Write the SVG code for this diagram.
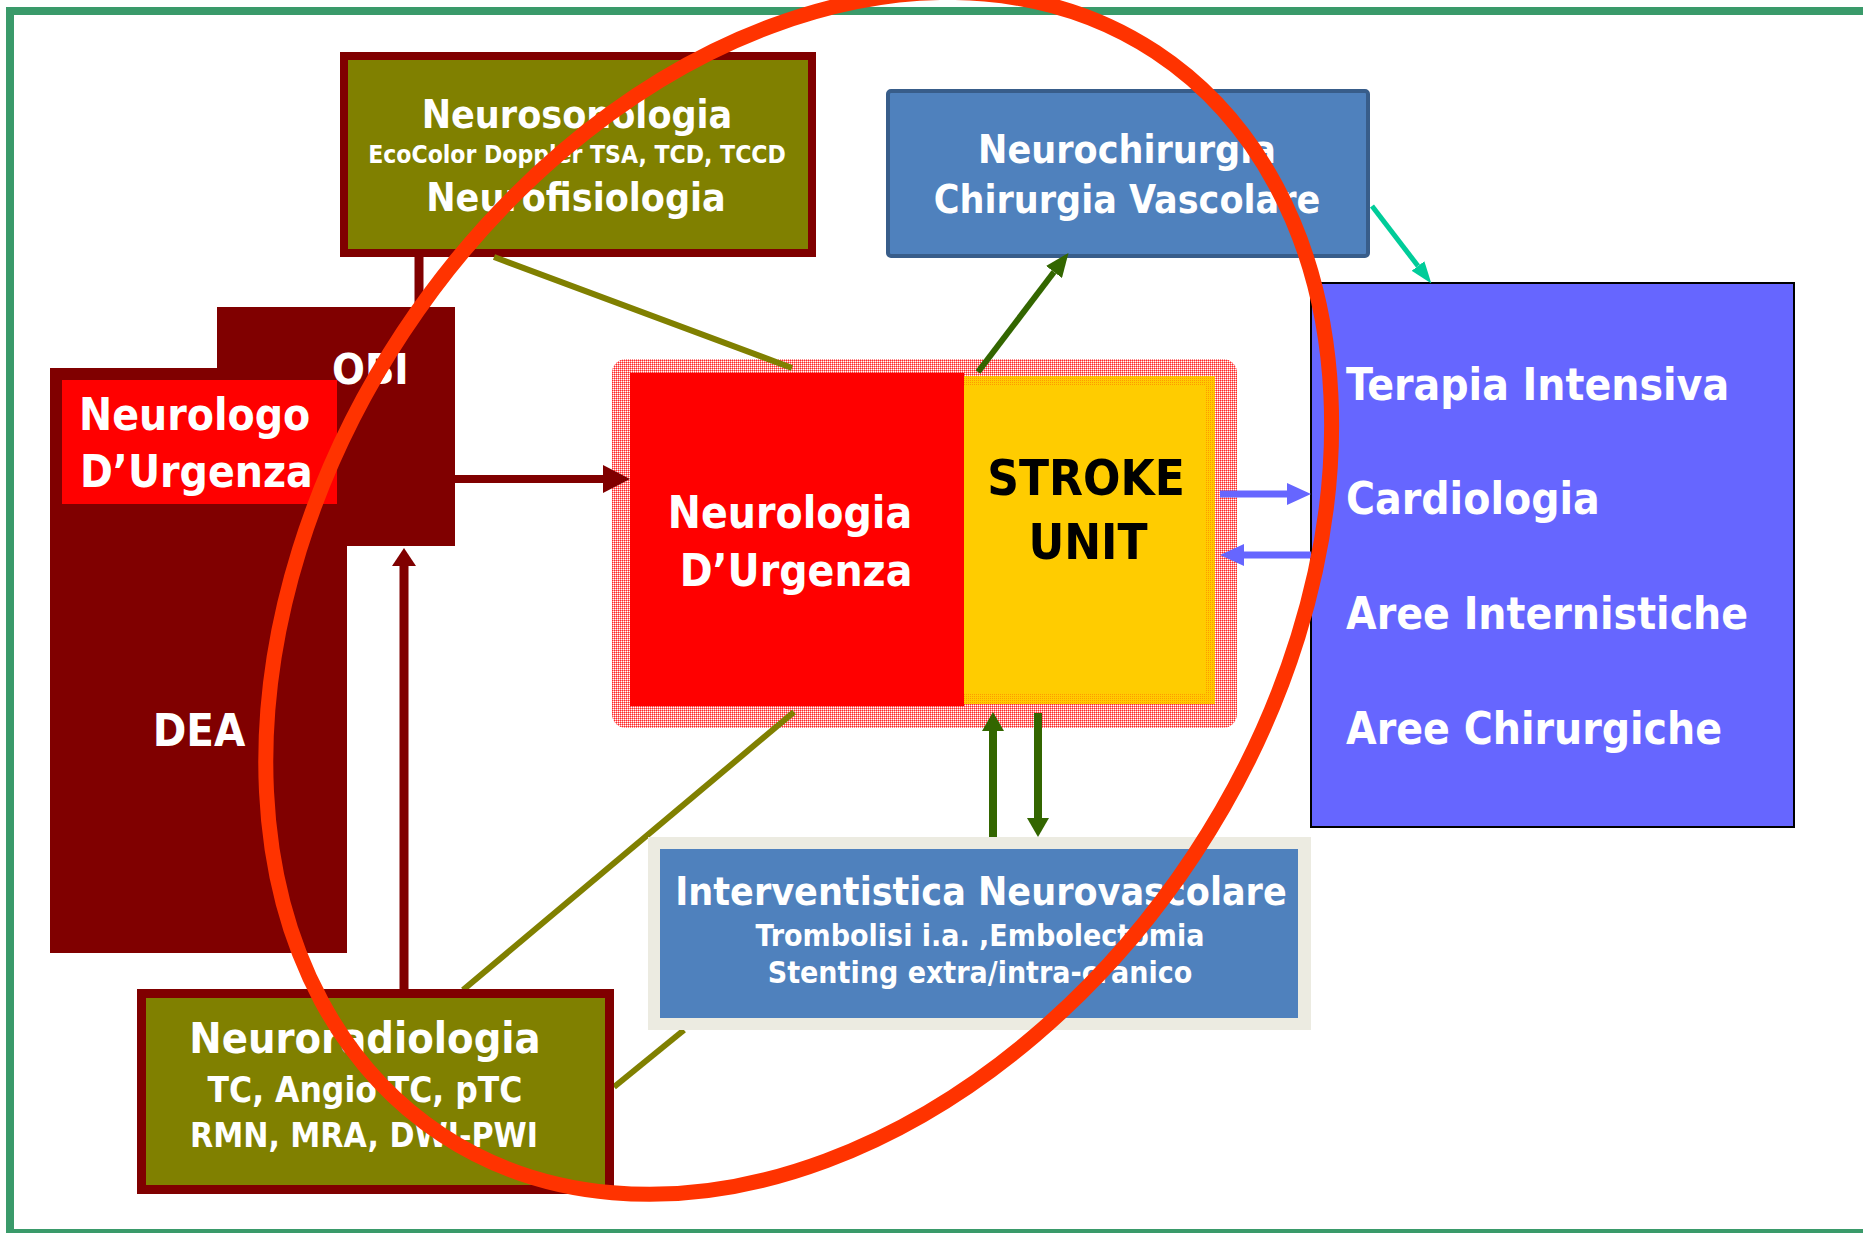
<svg xmlns="http://www.w3.org/2000/svg" width="1863" height="1233" viewBox="0 0 1863 1233">
<style>
text{font-family:'DejaVu Sans Condensed','DejaVu Sans',sans-serif;font-weight:bold;fill:#ffffff}
.c{text-anchor:middle}
.dk{fill:#000000}
.olv{fill:#808000;stroke:#800000}
.conn-olive{stroke:#808000;stroke-width:6;fill:none}
</style>
<defs>
<pattern id="pinkmesh" width="2" height="2" patternUnits="userSpaceOnUse">
<rect width="2" height="2" fill="#ffffff"/>
<rect width="1" height="1" fill="#ff2a2a"/>
<rect x="1" width="1" height="1" fill="#ff8a8a"/>
<rect y="1" width="1" height="1" fill="#ff8a8a"/>
</pattern>
<pattern id="orangemesh" width="2" height="2" patternUnits="userSpaceOnUse">
<rect width="2" height="2" fill="#ffcc00"/>
<rect width="1" height="1" fill="#ff9900"/>
</pattern>
<marker id="ah-darkred" markerUnits="userSpaceOnUse" markerWidth="27" markerHeight="28" refX="0" refY="14" orient="auto"><path d="M0,0 L27,14 L0,28 z" fill="#800000"/></marker>
<marker id="ah-darkred-s" markerUnits="userSpaceOnUse" markerWidth="18" markerHeight="24" refX="0" refY="12" orient="auto"><path d="M0,0 L18,12 L0,24 z" fill="#800000"/></marker>
<marker id="ah-green" markerUnits="userSpaceOnUse" markerWidth="19" markerHeight="22" refX="0" refY="11" orient="auto"><path d="M0,0 L19,11 L0,22 z" fill="#336600"/></marker>
<marker id="ah-green-d" markerUnits="userSpaceOnUse" markerWidth="24" markerHeight="20" refX="0" refY="10" orient="auto"><path d="M0,0 L24,10 L0,20 z" fill="#336600"/></marker>
<marker id="ah-teal" markerUnits="userSpaceOnUse" markerWidth="22" markerHeight="16" refX="0" refY="8" orient="auto"><path d="M0,0 L22,8 L0,16 z" fill="#00cc99"/></marker>
<marker id="ah-blue" markerUnits="userSpaceOnUse" markerWidth="24" markerHeight="22" refX="0" refY="11" orient="auto"><path d="M0,0 L24,11 L0,22 z" fill="#6666ff"/></marker>
</defs>

<rect id="frame" x="10" y="11" width="1900" height="1222" fill="none" stroke="#3a9a6a" stroke-width="8"/>

<g id="node-center-bg">
<rect x="612" y="359" width="625" height="369" rx="14" fill="url(#pinkmesh)"/>
</g>
<g id="node-stroke-unit">
<rect x="964" y="376" width="251" height="328" fill="url(#orangemesh)"/>
<rect x="964" y="386" width="242" height="308" fill="#ffcc00"/>
<text class="c dk" x="1086" y="495" font-size="49">STROKE</text>
<text class="c dk" x="1088" y="559" font-size="49">UNIT</text>
</g>
<g id="node-neurologia">
<rect x="630" y="373" width="334" height="333" fill="#ff0000"/>
<text class="c" x="790" y="528" font-size="44">Neurologia</text>
<text class="c" x="796" y="586" font-size="44">D’Urgenza</text>
</g>

<g id="node-dea">
<rect x="217" y="307" width="238" height="239" fill="#800000"/>
<rect x="50" y="368" width="297" height="585" fill="#800000"/>
<text class="c" x="199" y="746" font-size="45">DEA</text>
</g>
<g id="node-neurologo">
<rect x="62" y="380" width="275" height="124" fill="#ff0000"/>
<text x="79" y="430" font-size="44">Neurologo</text>
<text x="80" y="487" font-size="44">D’Urgenza</text>
</g>
<g id="node-obi">
<text x="332" y="384" font-size="43">OBI</text>
</g>

<g id="node-neurosonologia">
<rect class="olv" x="344" y="56" width="468" height="197" stroke-width="8"/>
<text class="c" x="577" y="128" font-size="39">Neurosonologia</text>
<text class="c" x="577" y="163" font-size="24.5">EcoColor Doppler TSA, TCD, TCCD</text>
<text class="c" x="576" y="211" font-size="39">Neurofisiologia</text>
</g>

<g id="node-neurochirurgia">
<rect x="888" y="91" width="480" height="165" rx="3" fill="#4f81bd" stroke="#385d8a" stroke-width="4"/>
<text class="c" x="1127" y="163" font-size="39">Neurochirurgia</text>
<text class="c" x="1127" y="213" font-size="39">Chirurgia Vascolare</text>
</g>

<g id="node-terapia">
<rect x="1311" y="283" width="483" height="544" fill="#6666ff" stroke="#000000" stroke-width="2"/>
<text x="1346" y="400" font-size="44">Terapia Intensiva</text>
<text x="1346" y="514" font-size="44">Cardiologia</text>
<text x="1346" y="629" font-size="44">Aree Internistiche</text>
<text x="1346" y="744" font-size="44">Aree Chirurgiche</text>
</g>

<g id="connectors">
<line x1="419" y1="253" x2="419" y2="307" stroke="#800000" stroke-width="9"/>
<line class="conn-olive" x1="494" y1="257" x2="792" y2="368"/>
<line class="conn-olive" x1="794" y1="712" x2="463" y2="990"/>
<line class="conn-olive" x1="614" y1="1087" x2="684" y2="1030"/>
<line x1="454" y1="479" x2="603" y2="479" stroke="#800000" stroke-width="8" marker-end="url(#ah-darkred)"/>
<line x1="404" y1="989" x2="404" y2="566" stroke="#800000" stroke-width="9" marker-end="url(#ah-darkred-s)"/>
<line x1="978" y1="372" x2="1054" y2="272" stroke="#336600" stroke-width="6" marker-end="url(#ah-green-d)"/>
<line x1="1372" y1="206" x2="1418" y2="266" stroke="#00cc99" stroke-width="5" marker-end="url(#ah-teal)"/>
<line x1="1220" y1="494" x2="1287" y2="494" stroke="#6666ff" stroke-width="7" marker-end="url(#ah-blue)"/>
<line x1="1311" y1="555" x2="1244" y2="555" stroke="#6666ff" stroke-width="7" marker-end="url(#ah-blue)"/>
<line x1="993" y1="837" x2="993" y2="731" stroke="#336600" stroke-width="8" marker-end="url(#ah-green)"/>
<line x1="1038" y1="713" x2="1038" y2="818" stroke="#336600" stroke-width="8" marker-end="url(#ah-green)"/>
</g>

<g id="node-neuroradiologia">
<rect class="olv" x="141.5" y="993.5" width="468" height="196" stroke-width="9"/>
<text class="c" x="365" y="1053" font-size="43">Neuroradiologia</text>
<text class="c" x="365" y="1102" font-size="35">TC, Angio TC, pTC</text>
<text class="c" x="364" y="1147" font-size="33.5">RMN, MRA, DWI-PWI</text>
</g>

<g id="node-interventistica">
<rect x="648" y="837" width="663" height="193" fill="#ecebe1"/>
<rect x="660" y="849" width="638" height="169" fill="#4f81bd"/>
<text class="c" x="981" y="905" font-size="39">Interventistica Neurovascolare</text>
<text class="c" x="980" y="946" font-size="30">Trombolisi i.a. ,Embolectomia</text>
<text class="c" x="980" y="983" font-size="30">Stenting extra/intra-cranico</text>
</g>

<ellipse id="highlight" cx="798.7" cy="593.4" rx="648.4" ry="474" transform="rotate(-56.6 798.7 593.4)" fill="none" stroke="#ff3300" stroke-width="15"/>
</svg>
